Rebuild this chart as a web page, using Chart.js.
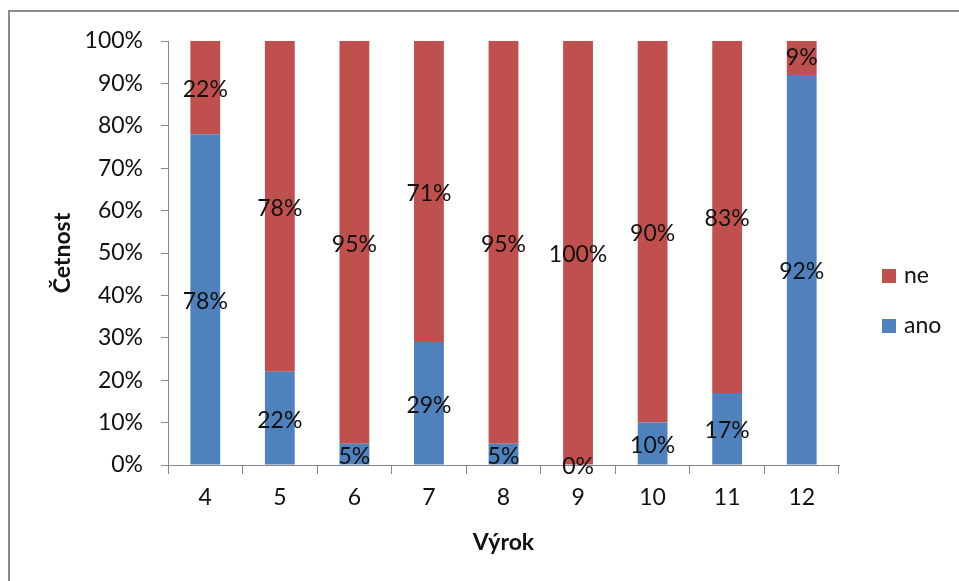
<!DOCTYPE html>
<html>
<head>
<meta charset="utf-8">
<script src="https://cdn.jsdelivr.net/npm/chart.js@4.4.1/dist/chart.umd.min.js"></script>
<style>
  html, body { margin: 0; padding: 0; background: #fff; overflow: hidden; }
  #wrap { position: relative; width: 959px; height: 581px; }
  #frame { position: absolute; left: 8px; top: 10px; width: 1000px; height: 600px;
           border-top: 2px solid #8a8a8a; border-left: 2px solid #8a8a8a; box-sizing: border-box; }
  canvas { position: absolute; left: 0; top: 0; }
</style>
</head>
<body>
<div id="wrap">
  <div id="frame"></div>
  <canvas id="c" width="959" height="581"></canvas>
</div>
<script>
// Answer shares per statement (Výrok), in percent
const categories = ['4', '5', '6', '7', '8', '9', '10', '11', '12'];
const anoValues = [78, 22, 5, 29, 5, 0, 10, 17, 92];
const neValues  = [22, 78, 95, 71, 95, 100, 90, 83, 9];
const yTicks = [0, 10, 20, 30, 40, 50, 60, 70, 80, 90, 100];

const FONT = 'Lato, "Liberation Sans", sans-serif';
const AXIS_GREY = '#868686';
const TEXT = '#111';

// Percentage labels centred in each bar segment
const segmentLabels = {
  id: 'segmentLabels',
  afterDatasetsDraw(chart) {
    const ctx = chart.ctx;
    ctx.save();
    ctx.font = '23px ' + FONT;
    ctx.fillStyle = TEXT;
    ctx.textAlign = 'center';
    ctx.textBaseline = 'middle';
    chart.data.datasets.forEach((ds, di) => {
      const meta = chart.getDatasetMeta(di);
      meta.data.forEach((bar, i) => {
        const yMid = (bar.y + bar.base) / 2 + 2;
        ctx.fillText(ds.data[i] + '%', bar.x, yMid);
      });
    });
    ctx.restore();
  }
};

// Legend on the right: "ne" above "ano"
const sideLegend = {
  id: 'sideLegend',
  afterDraw(chart) {
    const ctx = chart.ctx;
    const items = [
      { text: 'ne', color: '#C0504D', y: 276 },
      { text: 'ano', color: '#4F81BD', y: 326 }
    ];
    ctx.save();
    ctx.font = '23px ' + FONT;
    ctx.textBaseline = 'middle';
    ctx.textAlign = 'left';
    items.forEach(it => {
      ctx.fillStyle = it.color;
      ctx.fillRect(882, it.y - 7, 14, 14);
      ctx.fillStyle = TEXT;
      ctx.fillText(it.text, 904, it.y);
    });
    ctx.restore();
  }
};

new Chart(document.getElementById('c'), {
  type: 'bar',
  data: {
    labels: categories,
    datasets: [
      { label: 'ano', data: anoValues, backgroundColor: '#4F81BD',
        categoryPercentage: 1.0, barPercentage: 0.4 },
      { label: 'ne', data: neValues, backgroundColor: '#C0504D',
        categoryPercentage: 1.0, barPercentage: 0.4 }
    ]
  },
  options: {
    responsive: false,
    animation: false,
    layout: { padding: { left: 49, top: 41, right: 120, bottom: 25 } },
    plugins: { legend: { display: false }, tooltip: { enabled: false } },
    scales: {
      x: {
        stacked: true,
        offset: true,
        grid: { offset: true, drawOnChartArea: false, drawTicks: true, tickLength: 9, color: AXIS_GREY },
        border: { display: true, color: AXIS_GREY, width: 1 },
        ticks: { font: { family: FONT, size: 23 }, color: TEXT, padding: 10, maxRotation: 0 },
        title: { display: true, text: 'Výrok', font: { family: FONT, size: 23, weight: 'bold' },
                 color: TEXT, padding: 0 },
        afterFit(scale) { scale.height = 91; }
      },
      y: {
        stacked: true,
        min: 0,
        max: 100,
        afterBuildTicks(scale) { scale.ticks = yTicks.map(v => ({ value: v })); },
        grid: { drawOnChartArea: false, drawTicks: true, tickLength: 7, color: AXIS_GREY },
        border: { display: true, color: AXIS_GREY, width: 1 },
        ticks: { font: { family: FONT, size: 23 }, color: TEXT, padding: 18,
                 callback: v => v + '%' },
        title: { display: true, text: 'Četnost', font: { family: FONT, size: 23, weight: 'bold' },
                 color: TEXT, padding: 0 },
        afterFit(scale) { scale.width = 119; }
      }
    }
  },
  plugins: [segmentLabels, sideLegend]
});
</script>
</body>
</html>
